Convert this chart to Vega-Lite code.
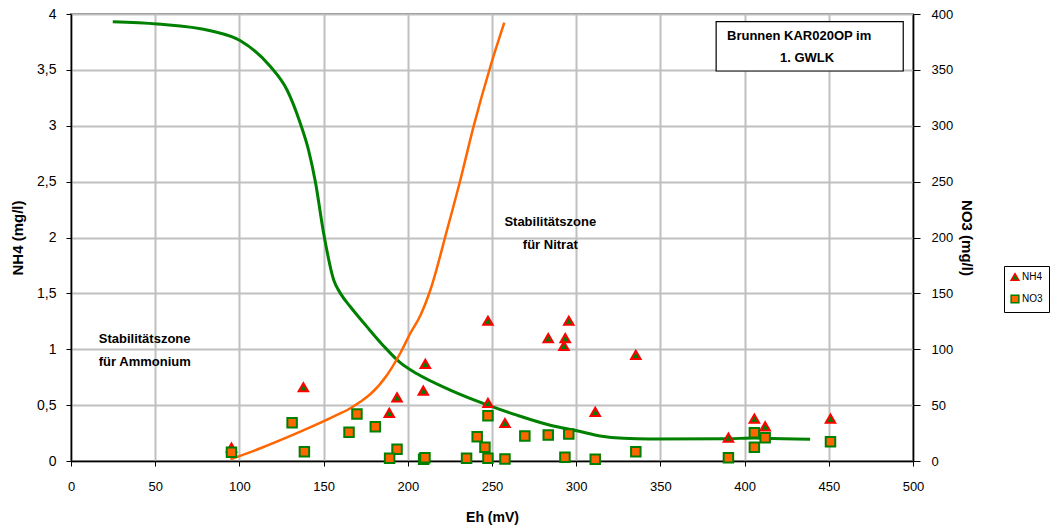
{
  "$schema": "https://vega.github.io/schema/vega-lite/v6.json",
  "width": 842,
  "height": 447,
  "autosize": {"type": "none"},
  "padding": {"left": 71, "top": 14, "right": 140, "bottom": 66},
  "background": "white",
  "config": {
    "view": {"stroke": "#808080", "strokeWidth": 2},
    "legend": {
      "orient": "none",
      "legendX": 933,
      "legendY": 252,
      "strokeColor": "#000000",
      "fillColor": "white",
      "padding": 6,
      "labelFont": "Liberation Sans",
      "labelFontSize": 10,
      "labelColor": "#000",
      "symbolSize": 60,
      "symbolStrokeWidth": 1.5,
      "rowPadding": 8,
      "labelOffset": 2
    }
  },
  "datasets": {
    "nh4": [
      {"Eh": 95.3, "NH4": 0.12, "series": "NH4"},
      {"Eh": 138, "NH4": 0.66, "series": "NH4"},
      {"Eh": 189, "NH4": 0.43, "series": "NH4"},
      {"Eh": 193.6, "NH4": 0.57, "series": "NH4"},
      {"Eh": 210.4, "NH4": 0.87, "series": "NH4"},
      {"Eh": 209.2, "NH4": 0.63, "series": "NH4"},
      {"Eh": 247.6, "NH4": 1.255, "series": "NH4"},
      {"Eh": 247.6, "NH4": 0.52, "series": "NH4"},
      {"Eh": 257.7, "NH4": 0.34, "series": "NH4"},
      {"Eh": 283.4, "NH4": 1.1, "series": "NH4"},
      {"Eh": 293.5, "NH4": 1.1, "series": "NH4"},
      {"Eh": 292.7, "NH4": 1.03, "series": "NH4"},
      {"Eh": 295.6, "NH4": 1.255, "series": "NH4"},
      {"Eh": 311.3, "NH4": 0.44, "series": "NH4"},
      {"Eh": 335.4, "NH4": 0.95, "series": "NH4"},
      {"Eh": 390.4, "NH4": 0.21, "series": "NH4"},
      {"Eh": 405.8, "NH4": 0.38, "series": "NH4"},
      {"Eh": 412.2, "NH4": 0.31, "series": "NH4"},
      {"Eh": 451, "NH4": 0.38, "series": "NH4"}
    ],
    "no3": [
      {"Eh": 95.3, "NO3": 7.8, "series": "NO3"},
      {"Eh": 131.3, "NO3": 34.3, "series": "NO3"},
      {"Eh": 138.6, "NO3": 8.3, "series": "NO3"},
      {"Eh": 165.1, "NO3": 25.7, "series": "NO3"},
      {"Eh": 169.8, "NO3": 42, "series": "NO3"},
      {"Eh": 180.7, "NO3": 30.7, "series": "NO3"},
      {"Eh": 193.6, "NO3": 10.5, "series": "NO3"},
      {"Eh": 189.2, "NO3": 2.4, "series": "NO3"},
      {"Eh": 209.4, "NO3": 1.5, "series": "NO3"},
      {"Eh": 210.2, "NO3": 3, "series": "NO3"},
      {"Eh": 234.9, "NO3": 2.4, "series": "NO3"},
      {"Eh": 241.2, "NO3": 21.7, "series": "NO3"},
      {"Eh": 245.8, "NO3": 12.2, "series": "NO3"},
      {"Eh": 247.6, "NO3": 40.5, "series": "NO3"},
      {"Eh": 247.6, "NO3": 2.4, "series": "NO3"},
      {"Eh": 257.7, "NO3": 1.8, "series": "NO3"},
      {"Eh": 269.5, "NO3": 22.4, "series": "NO3"},
      {"Eh": 283.4, "NO3": 23.3, "series": "NO3"},
      {"Eh": 295.6, "NO3": 24.2, "series": "NO3"},
      {"Eh": 293.3, "NO3": 3.3, "series": "NO3"},
      {"Eh": 311.3, "NO3": 1.5, "series": "NO3"},
      {"Eh": 335.4, "NO3": 8.3, "series": "NO3"},
      {"Eh": 390.4, "NO3": 3, "series": "NO3"},
      {"Eh": 405.8, "NO3": 25.3, "series": "NO3"},
      {"Eh": 405.8, "NO3": 12.2, "series": "NO3"},
      {"Eh": 412.2, "NO3": 20.9, "series": "NO3"},
      {"Eh": 451, "NO3": 17.3, "series": "NO3"}
    ],
    "greenCurve": [
      {"Eh": 24.8, "NH4": 3.93},
      {"Eh": 51.2, "NH4": 3.91},
      {"Eh": 82.8, "NH4": 3.85},
      {"Eh": 100.6, "NH4": 3.76},
      {"Eh": 118.4, "NH4": 3.53},
      {"Eh": 128.3, "NH4": 3.32},
      {"Eh": 136.2, "NH4": 3.02},
      {"Eh": 141.1, "NH4": 2.78},
      {"Eh": 145.1, "NH4": 2.5},
      {"Eh": 150, "NH4": 2.04},
      {"Eh": 156, "NH4": 1.62},
      {"Eh": 160, "NH4": 1.5},
      {"Eh": 165.9, "NH4": 1.38},
      {"Eh": 175.8, "NH4": 1.2},
      {"Eh": 185.6, "NH4": 1.03},
      {"Eh": 195.5, "NH4": 0.88},
      {"Eh": 205.5, "NH4": 0.78},
      {"Eh": 225.2, "NH4": 0.635},
      {"Eh": 247.6, "NH4": 0.5},
      {"Eh": 264.8, "NH4": 0.41},
      {"Eh": 284.6, "NH4": 0.32},
      {"Eh": 300.4, "NH4": 0.27},
      {"Eh": 314.2, "NH4": 0.224},
      {"Eh": 328, "NH4": 0.203},
      {"Eh": 343.9, "NH4": 0.197},
      {"Eh": 390.4, "NH4": 0.2},
      {"Eh": 405.8, "NH4": 0.205},
      {"Eh": 438.9, "NH4": 0.194}
    ],
    "orangeCurve": [
      {"Eh": 94.7, "NO3": 1.5},
      {"Eh": 112.5, "NO3": 11.4},
      {"Eh": 136.2, "NO3": 26.2},
      {"Eh": 158, "NO3": 41.2},
      {"Eh": 165.9, "NO3": 47.2},
      {"Eh": 171.8, "NO3": 53},
      {"Eh": 177.7, "NO3": 59.7},
      {"Eh": 187.7, "NO3": 77},
      {"Eh": 195.5, "NO3": 96.4},
      {"Eh": 201.5, "NO3": 114.3},
      {"Eh": 207.4, "NO3": 130},
      {"Eh": 213.4, "NO3": 153},
      {"Eh": 223.3, "NO3": 206.7},
      {"Eh": 231.2, "NO3": 251.5},
      {"Eh": 239, "NO3": 299},
      {"Eh": 249, "NO3": 352.8},
      {"Eh": 257.3, "NO3": 392.2}
    ],
    "centerLabels": [
      {"Eh": 284.6, "NH4": 2.14, "label": "Stabilitätszone"},
      {"Eh": 284.6, "NH4": 1.935, "label": "für Nitrat"},
      {"Eh": 432.4, "NH4": 3.805, "label": "Brunnen KAR020OP im"},
      {"Eh": 437.1, "NH4": 3.604, "label": "1. GWLK"}
    ],
    "leftLabels": [
      {"Eh": 16.5, "NH4": 1.092, "label": "Stabilitätszone"},
      {"Eh": 16.5, "NH4": 0.89, "label": "für Ammonium"}
    ],
    "box": [
      {"x1": 383.1, "x2": 494.2, "y1": 3.49, "y2": 3.931}
    ]
  },
  "layer": [
    {
      "data": {"name": "greenCurve"},
      "mark": {"type": "line", "color": "#008000", "strokeWidth": 3, "interpolate": "monotone"},
      "encoding": {
        "x": {
          "field": "Eh", "type": "quantitative",
          "scale": {"domain": [0, 500], "nice": false},
          "axis": {
            "values": [0, 50, 100, 150, 200, 250, 300, 350, 400, 450, 500],
            "title": "Eh (mV)",
            "grid": true, "gridColor": "#c0c0c0", "gridWidth": 2,
            "domainColor": "#000", "domainWidth": 1.5,
            "tickColor": "#000", "tickSize": 5,
            "labelFont": "Liberation Sans", "labelFontSize": 13, "labelColor": "#000",
            "labelPadding": 14, "labelFlush": false,
            "titleFont": "Liberation Sans", "titleFontSize": 14, "titleFontWeight": "bold",
            "titleColor": "#000", "titlePadding": 17
          }
        },
        "y": {
          "field": "NH4", "type": "quantitative",
          "scale": {"domain": [0, 4], "nice": false},
          "axis": {
            "orient": "left",
            "values": [0, 0.5, 1, 1.5, 2, 2.5, 3, 3.5, 4],
            "labelExpr": "replace(format(datum.value, '.1~f'), '.', ',')",
            "title": "NH4 (mg/l)",
            "grid": true, "gridColor": "#c0c0c0", "gridWidth": 2,
            "domainColor": "#000", "domainWidth": 1.5,
            "tickColor": "#000", "tickSize": 5,
            "labelFont": "Liberation Sans", "labelFontSize": 14, "labelColor": "#000",
            "labelPadding": 10,
            "titleFont": "Liberation Sans", "titleFontSize": 15, "titleFontWeight": "bold",
            "titleColor": "#000", "titlePadding": 11
          }
        }
      }
    },
    {
      "data": {"name": "orangeCurve"},
      "mark": {"type": "line", "color": "#ff6600", "strokeWidth": 2.5, "interpolate": "monotone"},
      "encoding": {
        "x": {"field": "Eh", "type": "quantitative"},
        "y": {
          "field": "NO3", "type": "quantitative",
          "scale": {"domain": [0, 400], "nice": false},
          "axis": {
            "orient": "right",
            "values": [0, 50, 100, 150, 200, 250, 300, 350, 400],
            "title": "NO3 (mg/l)",
            "grid": false,
            "domainColor": "#000", "domainWidth": 1.5,
            "tickColor": "#000", "tickSize": 7,
            "labelFont": "Liberation Sans", "labelFontSize": 13, "labelColor": "#000",
            "labelPadding": 11,
            "titleFont": "Liberation Sans", "titleFontSize": 15, "titleFontWeight": "bold",
            "titleColor": "#000", "titlePadding": 6
          }
        }
      }
    },
    {
      "data": {"name": "nh4"},
      "mark": {"type": "point", "filled": true, "opacity": 1, "size": 90, "strokeWidth": 2},
      "encoding": {
        "x": {"field": "Eh", "type": "quantitative"},
        "y": {"field": "NH4", "type": "quantitative", "scale": {"domain": [0, 4], "nice": false}, "axis": null},
        "shape": {"field": "series", "type": "nominal", "scale": {"domain": ["NH4", "NO3"], "range": ["triangle-up", "square"]}, "title": null},
        "fill": {"field": "series", "type": "nominal", "scale": {"domain": ["NH4", "NO3"], "range": ["#008000", "#ff6600"]}, "title": null},
        "stroke": {"field": "series", "type": "nominal", "scale": {"domain": ["NH4", "NO3"], "range": ["#ff0000", "#008000"]}, "title": null}
      }
    },
    {
      "data": {"name": "no3"},
      "mark": {"type": "point", "filled": true, "opacity": 1, "size": 90, "strokeWidth": 2},
      "encoding": {
        "x": {"field": "Eh", "type": "quantitative"},
        "y": {"field": "NO3", "type": "quantitative", "scale": {"domain": [0, 400], "nice": false}, "axis": null},
        "shape": {"field": "series", "type": "nominal", "title": null},
        "fill": {"field": "series", "type": "nominal", "title": null},
        "stroke": {"field": "series", "type": "nominal", "title": null}
      }
    },
    {
      "data": {"name": "box"},
      "mark": {"type": "rect", "fill": "white", "stroke": "#000", "strokeWidth": 1.2},
      "encoding": {
        "x": {"field": "x1", "type": "quantitative"},
        "x2": {"field": "x2"},
        "y": {"field": "y1", "type": "quantitative", "scale": {"domain": [0, 4], "nice": false}, "axis": null},
        "y2": {"field": "y2"}
      }
    },
    {
      "data": {"name": "centerLabels"},
      "mark": {"type": "text", "align": "center", "baseline": "middle", "font": "Liberation Sans", "fontWeight": "bold", "fontSize": 13, "color": "#000"},
      "encoding": {
        "x": {"field": "Eh", "type": "quantitative"},
        "y": {"field": "NH4", "type": "quantitative", "scale": {"domain": [0, 4], "nice": false}, "axis": null},
        "text": {"field": "label", "type": "nominal"}
      }
    },
    {
      "data": {"name": "leftLabels"},
      "mark": {"type": "text", "align": "left", "baseline": "middle", "font": "Liberation Sans", "fontWeight": "bold", "fontSize": 13, "color": "#000"},
      "encoding": {
        "x": {"field": "Eh", "type": "quantitative"},
        "y": {"field": "NH4", "type": "quantitative", "scale": {"domain": [0, 4], "nice": false}, "axis": null},
        "text": {"field": "label", "type": "nominal"}
      }
    }
  ],
  "resolve": {"scale": {"y": "independent"}}
}
